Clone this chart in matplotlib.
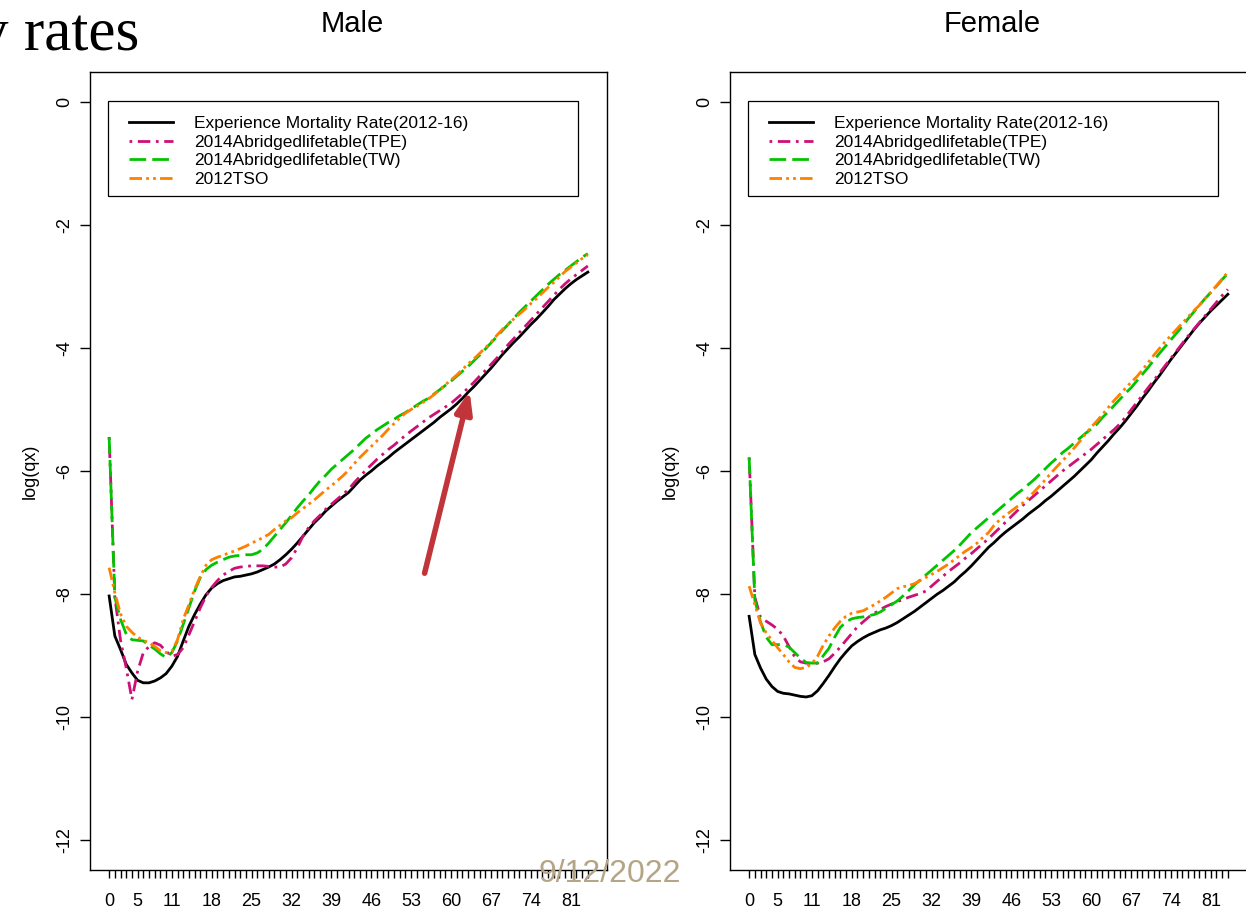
import numpy as np
import matplotlib.pyplot as plt
from matplotlib.patches import Rectangle

plt.rcParams['font.family'] = 'Liberation Sans'

# log(qx) by single age, 0..84
ages = np.arange(85)
shown_ages = [0, 5, 11, 18, 25, 32, 39, 46, 53, 60, 67, 74, 81]
y_ticks = [0, -2, -4, -6, -8, -10, -12]

series_names = ['Experience Mortality Rate(2012-16)',
                '2014Abridgedlifetable(TPE)',
                '2014Abridgedlifetable(TW)',
                '2012TSO']

male_exp = [-8.03, -8.68, -8.90, -9.14, -9.28, -9.40, -9.44, -9.44, -9.41, -9.36,
            -9.29, -9.17, -9.01, -8.76, -8.52, -8.33, -8.16, -8.01, -7.90, -7.83,
            -7.78, -7.75, -7.72, -7.71, -7.69, -7.67, -7.64, -7.60, -7.56, -7.51,
            -7.44, -7.36, -7.27, -7.17, -7.06, -6.95, -6.84, -6.75, -6.65, -6.57,
            -6.49, -6.42, -6.35, -6.25, -6.15, -6.07, -6.00, -5.92, -5.85, -5.78,
            -5.70, -5.63, -5.56, -5.49, -5.42, -5.35, -5.28, -5.21, -5.13, -5.06,
            -4.99, -4.91, -4.82, -4.72, -4.63, -4.53, -4.43, -4.33, -4.22, -4.11,
            -4.01, -3.91, -3.82, -3.72, -3.62, -3.53, -3.43, -3.33, -3.22, -3.13,
            -3.04, -2.96, -2.89, -2.83, -2.77]
male_tpe = [-5.45, -8.05, -8.75, -9.20, -9.71, -9.25, -8.95, -8.85, -8.79, -8.83,
            -8.93, -9.01, -8.98, -8.87, -8.66, -8.44, -8.22, -8.03, -7.89, -7.78,
            -7.69, -7.63, -7.58, -7.56, -7.55, -7.54, -7.54, -7.54, -7.55, -7.56,
            -7.56, -7.51, -7.41, -7.25, -7.06, -6.92, -6.81, -6.72, -6.62, -6.54,
            -6.46, -6.38, -6.30, -6.19, -6.09, -5.99, -5.90, -5.81, -5.73, -5.65,
            -5.58, -5.50, -5.42, -5.35, -5.28, -5.21, -5.14, -5.08, -5.02, -4.96,
            -4.90, -4.82, -4.74, -4.65, -4.56, -4.46, -4.37, -4.27, -4.17, -4.06,
            -3.95, -3.85, -3.75, -3.65, -3.55, -3.45, -3.35, -3.25, -3.15, -3.05,
            -2.96, -2.88, -2.81, -2.74, -2.67]
male_tw = [-5.45, -8.05, -8.41, -8.65, -8.74, -8.75, -8.76, -8.83, -8.89, -8.97,
           -9.03, -8.95, -8.76, -8.49, -8.22, -7.95, -7.73, -7.60, -7.53, -7.48,
           -7.44, -7.40, -7.38, -7.37, -7.36, -7.36, -7.33, -7.27, -7.17, -7.06,
           -6.95, -6.84, -6.72, -6.60, -6.49, -6.39, -6.27, -6.16, -6.07, -5.97,
           -5.89, -5.81, -5.73, -5.65, -5.56, -5.47, -5.40, -5.33, -5.27, -5.21,
           -5.16, -5.10, -5.05, -4.99, -4.93, -4.87, -4.82, -4.75, -4.68, -4.61,
           -4.54, -4.46, -4.38, -4.30, -4.21, -4.12, -4.02, -3.92, -3.82, -3.72,
           -3.62, -3.52, -3.42, -3.33, -3.24, -3.15, -3.06, -2.97, -2.89, -2.81,
           -2.74, -2.67, -2.60, -2.53, -2.47]
male_tso = [-7.57, -7.98, -8.32, -8.52, -8.62, -8.70, -8.75, -8.79, -8.85, -8.92,
            -8.95, -8.93, -8.74, -8.41, -8.17, -7.92, -7.71, -7.53, -7.44, -7.40,
            -7.37, -7.33, -7.30, -7.26, -7.22, -7.17, -7.13, -7.08, -7.03, -6.95,
            -6.88, -6.81, -6.76, -6.68, -6.61, -6.54, -6.47, -6.39, -6.31, -6.24,
            -6.16, -6.08, -5.99, -5.88, -5.78, -5.69, -5.60, -5.51, -5.42, -5.32,
            -5.23, -5.14, -5.06, -5.00, -4.95, -4.89, -4.83, -4.76, -4.68, -4.60,
            -4.52, -4.44, -4.35, -4.26, -4.18, -4.09, -4.00, -3.91, -3.80, -3.70,
            -3.62, -3.53, -3.45, -3.37, -3.28, -3.20, -3.11, -3.02, -2.94, -2.85,
            -2.76, -2.69, -2.62, -2.55, -2.49]

female_exp = [-8.36, -8.98, -9.20, -9.38, -9.50, -9.58, -9.61, -9.62, -9.64, -9.66,
              -9.67, -9.65, -9.57, -9.45, -9.32, -9.18, -9.05, -8.94, -8.84, -8.77,
              -8.71, -8.66, -8.62, -8.58, -8.55, -8.51, -8.46, -8.40, -8.34, -8.28,
              -8.21, -8.14, -8.07, -8.00, -7.94, -7.87, -7.80, -7.71, -7.63, -7.54,
              -7.44, -7.34, -7.24, -7.16, -7.07, -6.99, -6.92, -6.85, -6.78, -6.70,
              -6.63, -6.56, -6.48, -6.41, -6.33, -6.25, -6.17, -6.09, -6.00, -5.91,
              -5.82, -5.71, -5.61, -5.51, -5.40, -5.30, -5.19, -5.07, -4.95, -4.82,
              -4.70, -4.57, -4.45, -4.32, -4.19, -4.07, -3.95, -3.83, -3.71, -3.60,
              -3.50, -3.40, -3.31, -3.22, -3.13]
female_tpe = [-5.78, -8.05, -8.38, -8.44, -8.50, -8.57, -8.68, -8.85, -9.02, -9.10,
              -9.12, -9.13, -9.12, -9.10, -9.05, -8.96, -8.86, -8.75, -8.64, -8.53,
              -8.45, -8.37, -8.31, -8.25, -8.20, -8.16, -8.12, -8.09, -8.05, -8.02,
              -7.99, -7.95, -7.87, -7.79, -7.71, -7.63, -7.56, -7.49, -7.41, -7.34,
              -7.26, -7.18, -7.10, -7.01, -6.92, -6.83, -6.74, -6.65, -6.56, -6.48,
              -6.40, -6.32, -6.24, -6.16, -6.08, -6.00, -5.93, -5.86, -5.79, -5.72,
              -5.65, -5.57, -5.49, -5.41, -5.33, -5.24, -5.13, -5.01, -4.89, -4.77,
              -4.65, -4.53, -4.41, -4.29, -4.17, -4.05, -3.93, -3.81, -3.70, -3.59,
              -3.48, -3.37, -3.26, -3.15, -3.05]
female_tw = [-5.78, -8.10, -8.45, -8.70, -8.82, -8.82, -8.82, -8.86, -8.95, -9.04,
             -9.11, -9.12, -9.12, -9.00, -8.88, -8.70, -8.54, -8.45, -8.40, -8.38,
             -8.37, -8.35, -8.33, -8.29, -8.23, -8.17, -8.11, -8.03, -7.94, -7.85,
             -7.77, -7.69, -7.61, -7.53, -7.45, -7.37, -7.29, -7.20, -7.10, -7.00,
             -6.92, -6.84, -6.76, -6.69, -6.61, -6.53, -6.45, -6.37, -6.30, -6.22,
             -6.14, -6.05, -5.96, -5.87, -5.79, -5.70, -5.63, -5.55, -5.47, -5.39,
             -5.32, -5.24, -5.13, -5.04, -4.94, -4.84, -4.74, -4.65, -4.54, -4.43,
             -4.32, -4.20, -4.09, -3.98, -3.87, -3.76, -3.65, -3.53, -3.42, -3.31,
             -3.20, -3.10, -3.00, -2.89, -2.79]
female_tso = [-7.87, -8.17, -8.47, -8.63, -8.75, -8.87, -8.98, -9.10, -9.19, -9.21,
              -9.19, -9.13, -9.01, -8.83, -8.68, -8.55, -8.44, -8.36, -8.31, -8.29,
              -8.27, -8.22, -8.17, -8.11, -8.05, -7.98, -7.91, -7.88, -7.86, -7.83,
              -7.78, -7.73, -7.68, -7.63, -7.57, -7.51, -7.44, -7.37, -7.30, -7.24,
              -7.17, -7.08, -7.00, -6.88, -6.79, -6.72, -6.65, -6.58, -6.52, -6.43,
              -6.34, -6.24, -6.14, -6.03, -5.93, -5.83, -5.74, -5.63, -5.52, -5.40,
              -5.29, -5.19, -5.08, -4.97, -4.86, -4.76, -4.66, -4.56, -4.47, -4.36,
              -4.24, -4.12, -4.01, -3.90, -3.80, -3.70, -3.60, -3.50, -3.40, -3.31,
              -3.20, -3.10, -2.99, -2.88, -2.77]

colors = ['black', '#CD1076', '#00C400', '#FF8000']
dash_styles = [None, (1, 2, 4.5, 2), (6, 2.2), (4.5, 1.5, 1, 1.5, 1, 1.5)]

W, H = 1246, 910
fig = plt.figure(figsize=(W / 100, H / 100), dpi=100)


def panel(left_px, title, curves):
    ax = fig.add_axes([left_px / W, 40 / H, 517 / W, 798 / H])
    for vals, name, col, dsh in zip(curves, series_names, colors, dash_styles):
        line, = ax.plot(ages, vals, color=col, lw=2.0, label=name)
        if dsh is not None:
            line.set_dashes(dsh)
    ax.set_xlim(-3.36, 87.36)
    ax.set_ylim(-12.48, 0.48)
    ax.set_xticks(ages)
    ax.set_xticklabels([str(a) if a in shown_ages else '' for a in ages])
    ax.set_yticks(y_ticks)
    ax.set_yticklabels([str(v) for v in y_ticks])
    ax.tick_params(axis='x', length=5.8, width=1.0, labelsize=13, pad=11)
    ax.tick_params(axis='y', length=7.2, width=1.0, labelsize=13, pad=5,
                   labelrotation=90)
    for lab in ax.get_yticklabels():
        lab.set_va('center')
    for sp in ax.spines.values():
        sp.set_linewidth(1.0)
    ax.set_ylabel('log(qx)', fontsize=13)
    ax.yaxis.set_label_coords(-51 / 517, 0.5)
    ax.text(0.508, 1 + 48 / 798, title, transform=ax.transAxes,
            ha='center', va='center', fontsize=21)

    ax.legend(loc='upper left', bbox_to_anchor=(0.0754, 0.9449),
              frameon=False, borderpad=0, borderaxespad=0,
              handlelength=2.55, handletextpad=1.2, labelspacing=0.2,
              fontsize=12.5)
    ax.add_patch(Rectangle((0.0348, 0.8446), 0.909, 0.1191, transform=ax.transAxes,
                           fill=False, lw=0.9, ec='black', zorder=5))
    return ax


ax_m = panel(90, 'Male', [male_exp, male_tpe, male_tw, male_tso])
ax_f = panel(730, 'Female', [female_exp, female_tpe, female_tw, female_tso])

# pointer to where the experience curve meets the TPE table
ax_m.annotate('', xy=(63.25, -4.70), xytext=(55.35, -7.66),
              arrowprops=dict(arrowstyle='-|>,head_length=0.65,head_width=0.25',
                              color='#C1353A', lw=4, mutation_scale=20,
                              shrinkA=0, shrinkB=0))

fig.text(-22 / W, 1 - 50 / H, 'y rates', fontfamily='Liberation Serif',
         fontsize=44, ha='left', va='baseline')
fig.text(538 / W, 1 - 874 / H, '9/12/2022', color='#B3A585', fontsize=23,
         ha='left', va='center')

fig.savefig('out.png', dpi=100)
